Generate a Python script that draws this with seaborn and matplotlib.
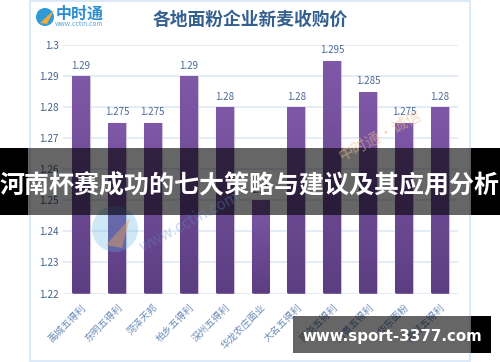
import numpy as np
import pandas as pd
import seaborn as sns
import matplotlib.pyplot as plt
from matplotlib.colors import LinearSegmentedColormap
from matplotlib.patches import Rectangle, Circle, Polygon

# 数据
cities = ['禹城五得利', '东明五得利', '菏泽天邦', '柏乡五得利', '深州五得利', '华龙农庄面业',
          '大名五得利', '隆尧五得利', '内黄五得利', '华东面粉', '邯郸五得利']
prices = [1.29, 1.275, 1.275, 1.29, 1.28, 1.25, 1.28, 1.295, 1.285, 1.275, 1.28]
yticks = [1.22, 1.23, 1.24, 1.25, 1.26, 1.27, 1.28, 1.29, 1.30]
ytick_labels = ['1.22', '1.23', '1.24', '1.25', '1.26', '1.27', '1.28', '1.29', '1.3']
title = '各地面粉企业新麦收购价'
banner = '河南杯赛成功的七大策略与建议及其应用分析'
site = 'www.sport-3377.com'

sns.set_theme(style='white')
plt.rcParams['font.family'] = ['Noto Sans CJK SC', 'DejaVu Sans']

W, H = 500, 362
fig = plt.figure(figsize=(W / 100, H / 100), dpi=100, facecolor='white')

# 背景层 (像素坐标)
bg = fig.add_axes([0, 0, 1, 1], zorder=0)
bg.set_xlim(0, W)
bg.set_ylim(H, 0)
bg.axis('off')
bg.add_patch(Rectangle((30, 0.5), 440, 360.5, fc='white', ec='#D6E5F6', lw=1.2))

# 标志
bg.add_patch(Circle((45, 17), 9, fc='#2E9BD8', ec='none'))
bg.add_patch(Polygon([[40, 23], [54, 10], [47, 24]], fc='#F2A93B', ec='none'))
bg.text(80, 13.5, '中时通', color='#2F8FD0', fontsize=11.5, fontweight='bold', ha='center', va='center')
bg.text(79, 24, 'www.cctin.com', color='#5BA3D8', fontsize=4.8, ha='center', va='center')

bg.text(250, 20, title, color='#34608F', fontsize=12.8, fontweight='bold', ha='center', va='center')

# 柱状图
ax = fig.add_axes([63 / W, 1 - 293.5 / H, (458 - 63) / W, (293.5 - 45) / H], zorder=1)
ax.patch.set_alpha(0)
df = pd.DataFrame({'city': cities, 'price': prices})
sns.barplot(data=df, x='city', y='price', color='#7A55A3', width=0.5, ax=ax, zorder=3)

cmap = LinearSegmentedColormap.from_list('bar', ['#5C3E82', '#7F58A7'])
grad = np.linspace(1, 0, 64).reshape(-1, 1)
bars = ax.containers[0]
for p in bars:
    p.set_edgecolor('#CFC6DC')
    p.set_linewidth(0.8)
    x0 = p.get_x()
    im = ax.imshow(grad, cmap=cmap, aspect='auto', zorder=4,
                   extent=(x0, x0 + p.get_width(), 1.22, p.get_height()))
    im.set_clip_path(p)

ax.bar_label(bars, labels=[f'{v:g}' for v in prices], padding=4, fontsize=7, color='#4A6A98', zorder=5)

ax.set_xlim(-0.5, 10.5)
ax.set_ylim(1.22, 1.30)
ax.set_yticks(yticks, ytick_labels)
ax.grid(axis='y', color='#DDE7F3', lw=1.1, zorder=1)
ax.set_axisbelow(True)
ax.set_xlabel('')
ax.set_ylabel('')
sns.despine(ax=ax, left=True, bottom=True, top=True, right=True)
ax.tick_params(axis='y', length=0, pad=3, labelsize=7.2, labelcolor='#44618C')
ax.tick_params(axis='x', length=0, pad=6, labelsize=7, labelcolor='#6C8DBA')
ax.set_xticks(range(len(cities)), cities, rotation=45, ha='right', rotation_mode='anchor')

# 顶层: 水印和横幅
top = fig.add_axes([0, 0, 1, 1], zorder=2)
top.set_xlim(0, W)
top.set_ylim(H, 0)
top.axis('off')
top.patch.set_alpha(0)

top.add_patch(Circle((115, 229), 23, fc='#5FB4E4', alpha=0.3, ec='none'))
top.add_patch(Polygon([[106, 245], [130, 218], [122, 248]], fc='#E8A060', alpha=0.45, ec='none'))
top.text(190, 222, 'www.cctin.com', color='#5F8FD0', alpha=0.35, fontsize=11, rotation=28,
         ha='center', va='center', style='italic')
top.text(380, 135, '中时通·诚信', color='#EFB98A', alpha=0.55, fontsize=11, rotation=28, ha='center', va='center')

top.add_patch(Rectangle((0, 148), 28, 67, fc='black', ec='none'))
top.add_patch(Rectangle((470.5, 148), 29.5, 67, fc='black', ec='none'))
top.add_patch(Rectangle((28, 148), 442.5, 67, fc='black', alpha=0.6, ec='none'))
top.text(250, 186, banner, color='white', fontsize=18, fontweight='bold', ha='center', va='center')

top.add_patch(Rectangle((470.5, 316), 20.5, 37, fc='black', ec='none'))
top.add_patch(Rectangle((293, 316), 177.5, 37, fc='black', alpha=0.6, ec='none'))
top.text(392, 337, site, color='white', fontsize=10.8, fontweight='bold', ha='center', va='center',
         family='DejaVu Sans')

fig.savefig('out.png', dpi=100)
